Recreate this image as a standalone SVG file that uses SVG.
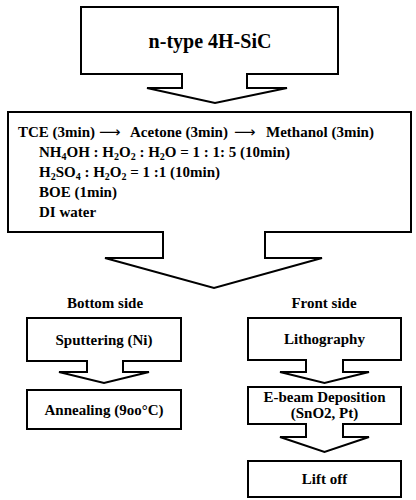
<svg xmlns="http://www.w3.org/2000/svg" width="416" height="500" viewBox="0 0 416 500">
<style>
.box{fill:#fff;stroke:#000;stroke-width:2}
.arr{fill:#fff;stroke:#000;stroke-width:2;stroke-linejoin:miter}
text{font-family:"Liberation Serif","Times New Roman",serif;font-weight:bold;fill:#000}
.c{text-anchor:middle;font-size:15px}
.t{font-size:15px}
.sub{font-size:10px}
.ar{font-family:"DejaVu Sans",sans-serif;font-weight:normal}
</style>
<rect width="416" height="500" fill="#fff"/>
<g id="node-substrate">
<rect class="box" x="81" y="7" width="257" height="67"/>
<text x="210" y="48" text-anchor="middle" font-size="20">n-type 4H-SiC</text>
</g>
<g id="node-cleaning">
<rect class="box" x="8" y="112" width="403" height="120"/>
<text class="t" y="137"><tspan x="18">TCE (3min)</tspan><tspan class="ar" x="99">⟶</tspan><tspan x="130">Acetone (3min)</tspan><tspan class="ar" x="234">⟶</tspan><tspan x="266">Methanol (3min)</tspan></text>
<text class="t" x="39" y="157">NH<tspan class="sub" dy="3">4</tspan><tspan dy="-3">OH : H</tspan><tspan class="sub" dy="3">2</tspan><tspan dy="-3">O</tspan><tspan class="sub" dy="3">2</tspan><tspan dy="-3"> : H</tspan><tspan class="sub" dy="3">2</tspan><tspan dy="-3">O = 1 : 1: 5 (10min)</tspan></text>
<text class="t" x="39" y="177">H<tspan class="sub" dy="3">2</tspan><tspan dy="-3">SO</tspan><tspan class="sub" dy="3">4</tspan><tspan dy="-3"> : H</tspan><tspan class="sub" dy="3">2</tspan><tspan dy="-3">O</tspan><tspan class="sub" dy="3">2</tspan><tspan dy="-3"> = 1 :1 (10min)</tspan></text>
<text class="t" x="39" y="197">BOE (1min)</text>
<text class="t" x="39" y="217">DI water</text>
</g>
<g id="label-bottom"><text class="c" x="105" y="308">Bottom side</text></g>
<g id="label-front"><text class="c" x="324" y="308">Front side</text></g>
<g id="node-sputtering">
<rect class="box" x="27" y="318" width="154" height="43"/>
<text class="c" x="104" y="345">Sputtering (Ni)</text>
</g>
<g id="node-annealing">
<rect class="box" x="27" y="390" width="154" height="39"/>
<text class="c" x="104" y="415">Annealing (9oo°C)</text>
</g>
<g id="node-lithography">
<rect class="box" x="248" y="318" width="153" height="42"/>
<text class="c" x="324.5" y="344">Lithography</text>
</g>
<g id="node-ebeam">
<rect class="box" x="248" y="387" width="153" height="37"/>
<text class="c" x="324.5" y="402">E-beam Deposition</text>
<text class="c" x="324.5" y="418">(SnO2, Pt)</text>
</g>
<g id="node-liftoff">
<rect class="box" x="248" y="461" width="153" height="36"/>
<text class="c" x="324.5" y="484">Lift off</text>
</g>
<g id="connectors">
<path class="arr" d="M182,73 V88 H147 L215,103 L287,88 H247 V73"/>
<path class="arr" d="M163,231 V258 H105 L214,288 L322,258 H265 V231"/>
<path class="arr" d="M87,360 V372 H59 L104,383 L149,372 H123 V360"/>
<path class="arr" d="M306,359 V372 H280 L324.5,383 L369,372 H343 V359"/>
<path class="arr" d="M306,423 V437 H280 L324.5,452 L369,437 H343 V423"/>
</g>
</svg>
